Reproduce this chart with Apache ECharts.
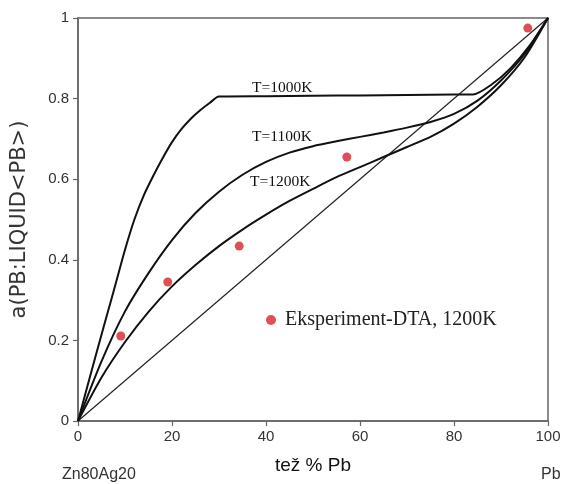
<!DOCTYPE html>
<html><head><meta charset="utf-8">
<script src="https://cdn.jsdelivr.net/npm/echarts@6/dist/echarts.min.js"></script>
<style>html,body{margin:0;padding:0;background:#fff}#c{width:564px;height:484px}</style>
</head><body><div id="c"></div>
<script>
const xTicks = [0, 20, 40, 60, 80, 100];
const yTicks = [0, 0.2, 0.4, 0.6, 0.8, 1];

const curveNames = ['T=1000K', 'T=1100K', 'T=1200K'];

const x1000 = [0, 2, 4, 6, 8, 10, 12, 14, 16, 18, 20, 22, 24, 26, 28, 30, 40, 50, 60, 70, 80, 84, 88, 92, 96, 100];
const y1000 = [0, 0.086, 0.172, 0.256, 0.34, 0.425, 0.5, 0.56, 0.608, 0.652, 0.692, 0.724, 0.75, 0.771, 0.789, 0.805, 0.806, 0.807, 0.808, 0.809, 0.81, 0.81, 0.835, 0.875, 0.93, 1];

const x1100 = [0, 5, 10, 15, 20, 25, 30, 35, 40, 45, 50, 55, 60, 65, 70, 75, 80, 85, 90, 95, 100];
const y1100 = [0, 0.148, 0.272, 0.367, 0.449, 0.516, 0.569, 0.611, 0.643, 0.666, 0.682, 0.694, 0.705, 0.716, 0.728, 0.742, 0.762, 0.795, 0.845, 0.91, 1];

const x1200 = [0, 5, 10, 15, 20, 25, 30, 35, 40, 45, 50, 55, 60, 65, 70, 75, 80, 85, 90, 95, 100];
const y1200 = [0, 0.108, 0.196, 0.271, 0.334, 0.387, 0.434, 0.475, 0.512, 0.546, 0.576, 0.605, 0.63, 0.655, 0.68, 0.705, 0.738, 0.78, 0.833, 0.902, 1];

const xDiag = [0, 100];
const yDiag = [0, 1];

const expName = 'Eksperiment-DTA, 1200K';
const xExp = [9.1, 19.1, 34.3, 57.2, 95.7];
const yExp = [0.211, 0.345, 0.434, 0.655, 0.975];

const zip = (a, b) => a.map((v, i) => [v, b[i]]);

const chart = echarts.init(document.getElementById('c'), null, {renderer: 'canvas'});

const axisColor = '#666';
const curveStyle = {color: '#111', width: 2};

chart.setOption({
  animation: false,
  backgroundColor: '#fff',
  grid: {left: 78, right: 16, top: 18, bottom: 63, show: false},
  legend: {
    data: [{name: expName, icon: 'circle'}],
    left: 261, top: 305,
    itemWidth: 10, itemHeight: 10, itemGap: 0,
    textStyle: {fontFamily: 'Liberation Serif', fontSize: 20, color: '#222', padding: [0, 0, 0, 4]}
  },
  xAxis: {
    type: 'value', min: 0, max: 100, interval: 20,
    axisLine: {show: true, onZero: false, lineStyle: {color: axisColor, width: 1.5}},
    axisTick: {show: true, inside: false, length: 5, lineStyle: {color: axisColor, width: 1.2}},
    axisLabel: {
      fontFamily: 'Liberation Sans', fontSize: 15, color: '#333', margin: 8,
      formatter: v => xTicks.includes(v) ? String(v) : ''
    },
    splitLine: {show: false},
    name: 'tež % Pb', nameLocation: 'middle', nameGap: 35,
    nameTextStyle: {fontFamily: 'Liberation Sans', fontSize: 19, color: '#111'}
  },
  yAxis: {
    type: 'value', min: 0, max: 1, interval: 0.2,
    axisLine: {show: true, onZero: false, lineStyle: {color: axisColor, width: 1.5}},
    axisTick: {show: true, inside: false, length: 5, lineStyle: {color: axisColor, width: 1.2}},
    axisLabel: {
      fontFamily: 'Liberation Sans', fontSize: 15, color: '#333', margin: 9,
      formatter: v => { const t = yTicks.find(k => Math.abs(k - v) < 1e-9); return t === undefined ? '' : String(t); }
    },
    splitLine: {show: false},
    name: 'a(PB:LIQUID<PB>)', nameLocation: 'middle', nameGap: 48, nameRotate: 90,
    nameTextStyle: {fontFamily: 'DejaVu Sans', fontSize: 21, color: '#333'}
  },
  graphic: [
    {type: 'rect', shape: {x: 78, y: 18, width: 470, height: 403}, style: {fill: 'none', stroke: axisColor, lineWidth: 1.5}, silent: true, z: 0},
    {type: 'text', left: 252, top: 80, style: {text: curveNames[0], font: '15.5px "Liberation Serif"', fill: '#111'}},
    {type: 'text', left: 252, top: 129, style: {text: curveNames[1], font: '15.5px "Liberation Serif"', fill: '#111'}},
    {type: 'text', left: 250, top: 174, style: {text: curveNames[2], font: '15.5px "Liberation Serif"', fill: '#111'}},
    {type: 'text', left: 62, top: 467, style: {text: 'Zn80Ag20', font: '16px "Liberation Sans"', fill: '#333'}},
    {type: 'text', left: 541, top: 467, style: {text: 'Pb', font: '16px "Liberation Sans"', fill: '#333'}}
  ],
  series: [
    {type: 'line', name: 'diag', data: zip(xDiag, yDiag), symbol: 'none', lineStyle: {color: '#222', width: 1.2}, z: 2},
    {type: 'line', name: curveNames[0], data: zip(x1000, y1000), symbol: 'none', smooth: 0.25, lineStyle: curveStyle, z: 3},
    {type: 'line', name: curveNames[1], data: zip(x1100, y1100), symbol: 'none', smooth: 0.25, lineStyle: curveStyle, z: 3},
    {type: 'line', name: curveNames[2], data: zip(x1200, y1200), symbol: 'none', smooth: 0.25, lineStyle: curveStyle, z: 3},
    {type: 'scatter', name: expName, data: zip(xExp, yExp), symbol: 'circle', symbolSize: 9, itemStyle: {color: '#d8232e'}, z: 5}
  ]
});
</script>
</body></html>
